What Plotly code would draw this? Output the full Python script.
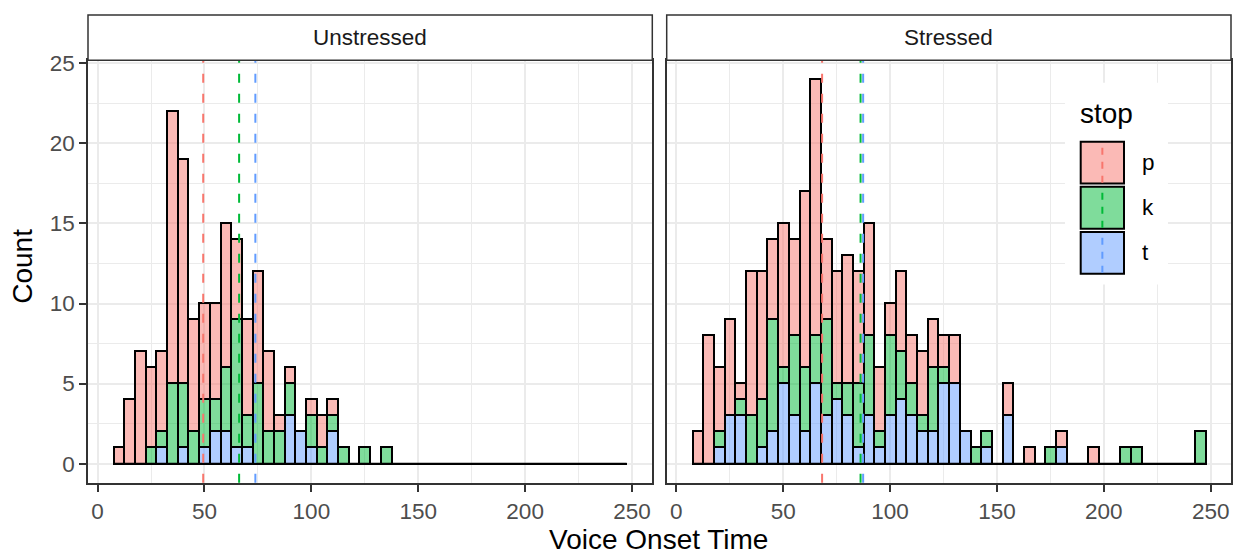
import plotly.graph_objects as go

# ---------------- data ----------------
bin_centers = [10, 15, 20, 25, 30, 35, 40, 45, 50, 55, 60, 65, 70, 75, 80, 85,
               90, 95, 100, 105, 110, 115, 120, 125, 130, 135, 140, 145, 150,
               155, 160, 165, 170, 175, 180, 185, 190, 195, 200, 205, 210, 215,
               220, 225, 230, 235, 240, 245]
bin_width = 5

stops = ["p", "k", "t"]
panels = ["Unstressed", "Stressed"]

unstressed_p = [1, 4, 7, 5, 5, 17, 14, 7, 6, 6, 9, 5, 6, 7, 5, 1, 1, 0, 1, 2, 1, 0, 0, 0, 0, 0,
                0, 0, 0, 0, 0, 0, 0, 0, 0, 0, 0, 0, 0, 0, 0, 0, 0, 0, 0, 0, 0, 0]
unstressed_k = [0, 0, 0, 1, 1, 5, 4, 2, 3, 2, 4, 8, 2, 5, 2, 2, 2, 0, 2, 1, 1, 1, 0, 1, 0, 1,
                0, 0, 0, 0, 0, 0, 0, 0, 0, 0, 0, 0, 0, 0, 0, 0, 0, 0, 0, 0, 0, 0]
unstressed_t = [0, 0, 0, 0, 1, 0, 1, 0, 1, 2, 2, 1, 1, 0, 0, 0, 3, 2, 1, 0, 2, 0, 0, 0, 0, 0,
                0, 0, 0, 0, 0, 0, 0, 0, 0, 0, 0, 0, 0, 0, 0, 0, 0, 0, 0, 0, 0, 0]

stressed_p = [2, 8, 4, 6, 1, 9, 8, 5, 9, 6, 11, 16, 5, 7, 8, 7, 7, 4, 2, 5, 3, 4, 3, 2, 3, 0,
              0, 0, 0, 2, 0, 1, 0, 0, 1, 0, 0, 1, 0, 0, 0, 0, 0, 0, 0, 0, 0, 0]
stressed_k = [0, 0, 1, 0, 1, 3, 3, 7, 1, 5, 4, 3, 6, 1, 2, 4, 5, 1, 5, 3, 2, 1, 4, 1, 0, 0,
              1, 1, 0, 0, 0, 0, 0, 1, 0, 0, 0, 0, 0, 0, 1, 1, 0, 0, 0, 0, 0, 2]
stressed_t = [0, 0, 1, 3, 3, 0, 1, 2, 5, 3, 2, 5, 3, 4, 3, 1, 3, 1, 3, 4, 3, 2, 2, 5, 5, 2,
              0, 1, 0, 3, 0, 0, 0, 0, 1, 0, 0, 0, 0, 0, 0, 0, 0, 0, 0, 0, 0, 0]

# mean VOT per stop (order p, k, t)
mean_unstressed = [49.4, 66.2, 73.8]
mean_stressed = [68.2, 86.2, 87.4]

x_ticks = [0, 50, 100, 150, 200, 250]
x_minor = [25, 75, 125, 175, 225]
y_ticks = [0, 5, 10, 15, 20, 25]
y_minor = [2.5, 7.5, 12.5, 17.5, 22.5]

# ---------------- style ----------------
W, H = 1238, 554
FONT = "Liberation Sans, Arial, sans-serif"
fill = {"p": "rgba(248,118,109,0.5)", "k": "rgba(0,186,56,0.5)", "t": "rgba(97,156,255,0.5)"}
hue = {"p": "#F8766D", "k": "#00BA38", "t": "#619CFF"}
DASH = "9px,11px"
OUTLINE = 2
TITLE_SIZE = 28
TEXT_SIZE = 22.5


def px(x):
    return x / W


def py(y):
    return 1 - y / H


panel_x = [(88, 652.3), (666.7, 1231)]
panel_top, panel_bottom = 52, 481.7
strip_top = 6

data = {
    "Unstressed": {"p": unstressed_p, "k": unstressed_k, "t": unstressed_t},
    "Stressed": {"p": stressed_p, "k": stressed_k, "t": stressed_t},
}
means = {"Unstressed": mean_unstressed, "Stressed": mean_stressed}

fig = go.Figure()
shapes = []
annotations = []

for i, panel in enumerate(panels):
    xa = "x" if i == 0 else "x2"
    ya = "y" if i == 0 else "y2"
    # stacking: t bottom, k middle, p top
    for s in ["t", "k", "p"]:
        fig.add_trace(go.Bar(
            x=bin_centers, y=data[panel][s], width=bin_width,
            marker=dict(color=fill[s], line=dict(color="black", width=OUTLINE)),
            xaxis=xa, yaxis=ya, showlegend=False, hoverinfo="skip",
        ))
    # baseline for empty bins
    lo = bin_centers[0] - bin_width / 2
    hi = bin_centers[-1] + bin_width / 2
    fig.add_trace(go.Scatter(
        x=[lo, hi], y=[0, 0], mode="lines",
        line=dict(color="black", width=OUTLINE),
        xaxis=xa, yaxis=ya, showlegend=False, hoverinfo="skip",
    ))
    # mean lines
    for s, m in zip(stops, means[panel]):
        shapes.append(dict(
            type="line", xref=xa, yref=f"{ya} domain", x0=m, x1=m, y0=0, y1=1,
            line=dict(color=hue[s], width=2, dash=DASH), layer="above",
        ))
    # strip
    x0, x1 = panel_x[i]
    shapes.append(dict(
        type="rect", xref="paper", yref="paper",
        x0=px(x0), x1=px(x1), y0=py(panel_top), y1=py(strip_top),
        fillcolor="white", line=dict(color="#333333", width=1.5), layer="above",
    ))
    annotations.append(dict(
        text=panel, xref="paper", yref="paper",
        x=px((x0 + x1) / 2), y=py((panel_top + strip_top) / 2),
        xanchor="center", yanchor="middle", showarrow=False,
        font=dict(family=FONT, size=TEXT_SIZE, color="#1A1A1A"),
    ))

# ---------------- legend (drawn manually, ggplot style) ----------------
shapes.append(dict(
    type="rect", xref="paper", yref="paper",
    x0=px(1065), x1=px(1168), y0=py(280), y1=py(75),
    fillcolor="white", line=dict(width=0), layer="above",
))
annotations.append(dict(
    text="stop", xref="paper", yref="paper", x=px(1078), y=py(106),
    xanchor="left", yanchor="middle", showarrow=False,
    font=dict(family=FONT, size=TITLE_SIZE, color="black"),
))
key_x0, key_x1 = 1080.7, 1124
for j, s in enumerate(stops):
    top = 135 + j * 45.8
    bot = top + 42.5
    shapes.append(dict(
        type="rect", xref="paper", yref="paper",
        x0=px(key_x0), x1=px(key_x1), y0=py(bot), y1=py(top),
        fillcolor=fill[s], line=dict(color="black", width=OUTLINE), layer="above",
    ))
    shapes.append(dict(
        type="line", xref="paper", yref="paper",
        x0=px((key_x0 + key_x1) / 2), x1=px((key_x0 + key_x1) / 2),
        y0=py(bot - 1), y1=py(top + 1),
        line=dict(color=hue[s], width=2, dash="7px,7px"), layer="above",
    ))
    annotations.append(dict(
        text=s, xref="paper", yref="paper", x=px(1140), y=py((top + bot) / 2),
        xanchor="left", yanchor="middle", showarrow=False,
        font=dict(family=FONT, size=TEXT_SIZE, color="black"),
    ))

# axis titles
annotations.append(dict(
    text="Count", xref="paper", yref="paper", x=px(23), y=py(262),
    xanchor="center", yanchor="middle", textangle=-90, showarrow=False,
    font=dict(family=FONT, size=TITLE_SIZE, color="black"),
))
annotations.append(dict(
    text="Voice Onset Time", xref="paper", yref="paper", x=px(658), y=py(539),
    xanchor="center", yanchor="middle", showarrow=False,
    font=dict(family=FONT, size=TITLE_SIZE, color="black"),
))

common_x = dict(
    range=[-4.5, 259.5], tickvals=x_ticks, ticks="outside", ticklen=7,
    tickwidth=1.5, tickcolor="#333333", showline=True, mirror=True,
    linecolor="#333333", linewidth=1.5, showgrid=True, gridcolor="#EBEBEB",
    gridwidth=2, zeroline=False,
    minor=dict(tickvals=x_minor, showgrid=True, gridcolor="#EBEBEB", gridwidth=1),
    tickfont=dict(family=FONT, size=TEXT_SIZE, color="#4D4D4D"),
)
common_y = dict(
    range=[-1.2, 25.2], tickvals=y_ticks, showline=True, mirror=True,
    linecolor="#333333", linewidth=1.5, showgrid=True, gridcolor="#EBEBEB",
    gridwidth=2, zeroline=False,
    minor=dict(tickvals=y_minor, showgrid=True, gridcolor="#EBEBEB", gridwidth=1),
    tickfont=dict(family=FONT, size=TEXT_SIZE, color="#4D4D4D"),
    domain=[py(panel_bottom), py(panel_top)],
)

fig.update_layout(
    width=W, height=H, autosize=False,
    margin=dict(l=0, r=0, t=0, b=0),
    paper_bgcolor="white", plot_bgcolor="white",
    barmode="stack", bargap=0,
    font=dict(family=FONT),
    xaxis=dict(**common_x, domain=[px(panel_x[0][0]), px(panel_x[0][1])], anchor="y"),
    xaxis2=dict(**common_x, domain=[px(panel_x[1][0]), px(panel_x[1][1])], anchor="y2"),
    yaxis=dict(**common_y, anchor="x", ticks="outside", ticklen=7, tickwidth=1.5,
               tickcolor="#333333"),
    yaxis2=dict(**common_y, anchor="x2", matches="y", showticklabels=False, ticks=""),
    shapes=shapes,
    annotations=annotations,
)

fig.write_html(
    "out.html",
    config={"displayModeBar": False},
    post_script="document.body.style.margin='0';document.body.style.overflow='hidden';",
)
